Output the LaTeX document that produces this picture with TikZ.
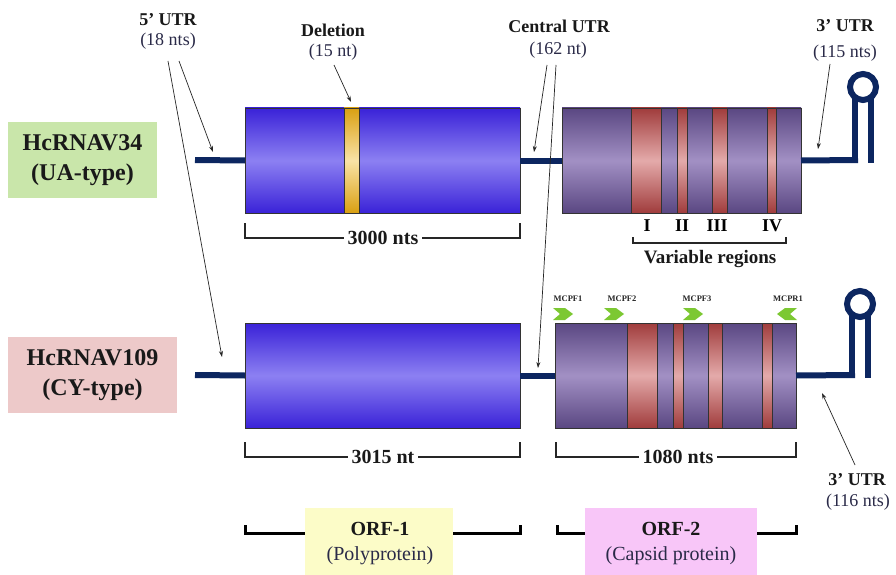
\documentclass[tikz,border=0pt]{standalone}
\usepackage{fontspec}
\setmainfont{Liberation Serif}
\usetikzlibrary{arrows.meta}
\definecolor{rnablue}{HTML}{0C2660}
\definecolor{blueE}{HTML}{3A22D8}
\definecolor{blueM}{HTML}{8C80F2}
\definecolor{purE}{HTML}{5A4782}
\definecolor{purM}{HTML}{A290C4}
\definecolor{redE}{HTML}{A03C3C}
\definecolor{redM}{HTML}{E4AAAA}
\definecolor{yelE}{HTML}{D9A012}
\definecolor{yelM}{HTML}{F9E3A6}
\definecolor{greenbox}{HTML}{C9E6AA}
\definecolor{pinkbox}{HTML}{EDC9C9}
\definecolor{orfyel}{HTML}{FCFCC8}
\definecolor{orfpink}{HTML}{F8C6F8}
\definecolor{primer}{HTML}{7CC832}
\definecolor{paren}{HTML}{2A2A48}
\tikzset{
  box/.style={draw=black!80, line width=0.7pt, inner sep=0pt, outer sep=0pt, anchor=north west},
  orfbox/.style={box, top color=blueE, bottom color=blueE, middle color=blueM},
  capbox/.style={box, top color=purE, bottom color=purE, middle color=purM},
  band/.style={box, top color=redE, bottom color=redE, middle color=redM},
  delband/.style={box, top color=yelE, bottom color=yelE, middle color=yelM},
  rna/.style={draw=rnablue, line width=6pt},
  ptr/.style={-{Stealth[length=6pt,width=4pt]}, line width=0.7pt, black!85},
  bl/.style={font=\bfseries\fontsize{18}{20}\selectfont, text=black!90},
  pl/.style={font=\fontsize{18}{20}\selectfont, text=paren},
  bigl/.style={font=\bfseries\fontsize{24}{30}\selectfont, align=center, text=black!90, inner sep=0pt},
  brk/.style={line width=1.2pt, black!85},
  brkthick/.style={line width=3pt, black},
  brklab/.style={font=\bfseries\fontsize{20}{22}\selectfont, fill=white, inner sep=4pt, text=black!90},
  prl/.style={font=\bfseries\fontsize{8.5}{9}\selectfont, text=black!85},
  chev/.style={fill=primer}
}
\begin{document}
\begin{tikzpicture}[x=1pt,y=-1pt]
\useasboundingbox (0,0) rectangle (896,575);
\fill[white] (0,0) rectangle (896,575);

% ---------------- top genome (HcRNAV34)
\fill[greenbox] (8,122) rectangle (157,198);
\node[bigl] (nameA) at (82.5,160) {HcRNAV34\\(UA-type)};

\coordinate (leadA) at (195,160);
\node[orfbox, minimum width=275pt, minimum height=105pt] (orfA) at (245,108) {};
\node[delband, minimum width=15pt, minimum height=105pt] (del) at (344,108) {};
\node[capbox, minimum width=239pt, minimum height=105pt] (capA) at (562,108) {};
\node[band, minimum width=30pt, minimum height=105pt] (bA1) at (631,108) {};
\node[band, minimum width=10pt, minimum height=105pt] (bA2) at (677,108) {};
\node[band, minimum width=15pt, minimum height=105pt] (bA3) at (712,108) {};
\node[band, minimum width=9pt, minimum height=105pt] (bA4) at (767,108) {};

\draw[rna] (leadA) -- (orfA.west);
\draw[rna] (orfA.east) -- (capA.west);
\coordinate (stemAl) at (855,160);
\coordinate (stemAr) at (871,163);
\draw[rna] (capA.east) -- ([xshift=3pt]stemAl) ;
\draw[rna, line cap=butt] ([yshift=3pt]stemAl) -- (855,98);
\draw[rna] (871,98) -- (stemAr);
\draw[draw=rnablue, line width=6pt] (863,87) circle (13pt);

% top labels
\node[bl] (utr5) at (168,20) {5’ UTR};
\node[pl] (utr5n) at (168,41) {(18 nts)};
\node[bl] (dell) at (333,30) {Deletion};
\node[pl] (deln) at (333,52) {(15 nt)};
\node[bl] (cutr) at (559,26) {Central UTR};
\node[pl] (cutrn) at (558,50) {(162 nt)};
\node[bl] (utr3) at (845,26) {3’ UTR};
\node[pl] (utr3n) at (845,53) {(115 nts)};

\node[font=\bfseries\fontsize{18}{20}\selectfont] (vI) at (647,226) {I};
\node[font=\bfseries\fontsize{18}{20}\selectfont] (vII) at (682,226) {II};
\node[font=\bfseries\fontsize{18}{20}\selectfont] (vIII) at (717,226) {III};
\node[font=\bfseries\fontsize{18}{20}\selectfont] (vIV) at (772,226) {IV};
\draw[brk] (633,237) -- (633,243) -- (786,243) -- (786,237);
\node[font=\bfseries\fontsize{19}{21}\selectfont, text=black!90] (varl) at (710,259) {Variable regions};

\draw[brk] (245,223) -- (245,238) -- (520,238) -- (520,223);
\node[brklab] (lenA) at (383,238) {3000 nts};

% ---------------- bottom genome (HcRNAV109)
\fill[pinkbox] (8,337) rectangle (177,413);
\node[bigl] (nameB) at (92.5,375) {HcRNAV109\\(CY-type)};

\coordinate (leadB) at (195,375);
\node[orfbox, minimum width=275pt, minimum height=105pt] (orfB) at (245,323) {};
\node[capbox, minimum width=241pt, minimum height=105pt] (capB) at (555,323) {};
\node[band, minimum width=30pt, minimum height=105pt] (bB1) at (627,323) {};
\node[band, minimum width=10pt, minimum height=105pt] (bB2) at (673,323) {};
\node[band, minimum width=14pt, minimum height=105pt] (bB3) at (708,323) {};
\node[band, minimum width=10pt, minimum height=105pt] (bB4) at (762,323) {};

\draw[rna] (leadB) -- (orfB.west);
\draw[rna] (orfB.east) -- (capB.west);
\coordinate (stemBl) at (852,375);
\coordinate (stemBr) at (868,378);
\draw[rna] (capB.east) -- ([xshift=3pt]stemBl);
\draw[rna, line cap=butt] ([yshift=3pt]stemBl) -- (852,315);
\draw[rna] (868,315) -- (stemBr);
\draw[draw=rnablue, line width=6pt] (860,304) circle (13pt);

% primers
\node[prl] (p1) at (568,299) {MCPF1};
\node[prl] (p2) at (622,299) {MCPF2};
\node[prl] (p3) at (697,299) {MCPF3};
\node[prl] (p4) at (788,299) {MCPR1};
\foreach \cx in {563,614,693}{
  \fill[chev] (\cx-10,308) -- (\cx+2,308) -- (\cx+10,314) -- (\cx+2,320) -- (\cx-10,320) -- (\cx-3,314) -- cycle;
}
\fill[chev] (797,308) -- (785,308) -- (777,314) -- (785,320) -- (797,320) -- (790,314) -- cycle;

\draw[brk] (245,442) -- (245,457) -- (520,457) -- (520,442);
\node[brklab] (lenB1) at (383,457) {3015 nt};
\draw[brk] (556,442) -- (556,457) -- (796,457) -- (796,442);
\node[brklab] (lenB2) at (678,457) {1080 nts};

\node[bl] (utr3b) at (857,480) {3’ UTR};
\node[pl] (utr3bn) at (858,502) {(116 nts)};

% ORF brackets
\draw[brkthick] (245,525) -- (245,533) -- (520,533) -- (520,525);
\draw[brkthick] (557,525) -- (557,533) -- (796,533) -- (796,525);
\node[fill=orfyel, minimum width=148pt, minimum height=67pt, inner sep=0pt, anchor=north west] (orf1) at (305,508) {};
\node[font=\bfseries\fontsize{20}{22}\selectfont, text=black!90] (orf1t) at (380,529) {ORF-1};
\node[font=\fontsize{20}{22}\selectfont, text=paren] (orf1s) at (380,556) {(Polyprotein)};
\node[fill=orfpink, minimum width=172pt, minimum height=67pt, inner sep=0pt, anchor=north west] (orf2) at (585,508) {};
\node[font=\bfseries\fontsize{20}{22}\selectfont, text=black!90] (orf2t) at (671,529) {ORF-2};
\node[font=\fontsize{20}{22}\selectfont, text=paren] (orf2s) at (671,556) {(Capsid protein)};

% pointer arrows
\coordinate (a5s1) at (179,61);  \coordinate (a5e1) at (213,152);
\coordinate (a5s2) at (168,61);  \coordinate (a5e2) at (222,357);
\coordinate (ads) at (334,65);   \coordinate (ade) at (351,102);
\coordinate (acs1) at (547,65);  \coordinate (ace1) at (534,152);
\coordinate (acs2) at (556,65);  \coordinate (ace2) at (538,368);
\coordinate (a3s) at (830,64);   \coordinate (a3e) at (818,149);
\coordinate (a3bs) at (855,465); \coordinate (a3be) at (822,393);
\draw[ptr] (a5s1) -- (a5e1);
\draw[ptr] (a5s2) -- (a5e2);
\draw[ptr] (ads) -- (ade);
\draw[ptr] (acs1) -- (ace1);
\draw[ptr] (acs2) -- (ace2);
\draw[ptr] (a3s) -- (a3e);
\draw[ptr] (a3bs) -- (a3be);
\end{tikzpicture}
\end{document}
